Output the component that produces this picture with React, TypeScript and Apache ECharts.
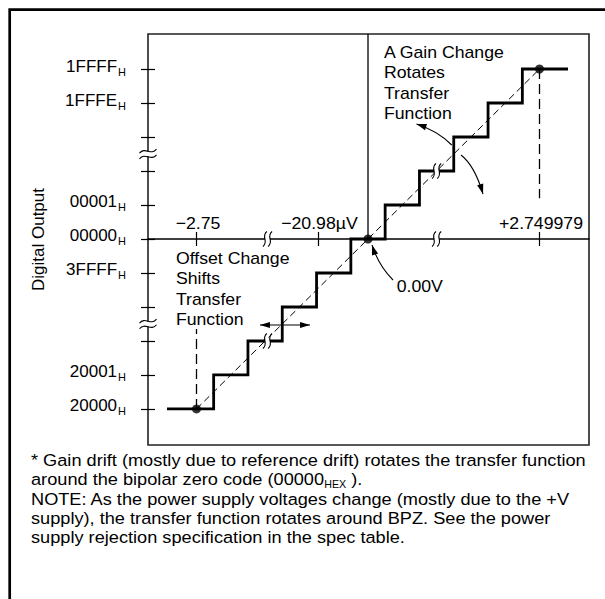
import React, { useEffect, useRef } from 'react';
import * as echarts from 'echarts';

const FONT = '"Liberation Sans", Arial, Helvetica, sans-serif';
const TEXT_SCALE = 1.04;
const FOOT_SCALE = 1.07;

// Output code levels (steps of 1 LSB around bipolar zero)
const codeLevels = [-5, -4, -3, -2, -1, 0, 1, 2, 3, 4, 5];
const codeLabelValues = [5, 4, 1, 0, -1, -4, -5];
const codeLabelTexts = ['1FFFF', '1FFFE', '00001', '00000', '3FFFF', '20001', '20000'];

// Staircase transfer function (input in LSB, output code level)
const stairX = [-5.86, -5, -4, -3, -2, -1, 0, 1, 2, 3, 4, 5, 5.83];
const stairY = [-5, -5, -4, -3, -2, -1, 0, 1, 2, 3, 4, 5, 5];

// Ideal (dashed) line
const idealX = [-5, 5];
const idealY = [-5, 5];

// Highlighted points
const dotX = [-5, 0, 5];
const dotY = [-5, 0, 5];

// Input axis ticks
const inputTickValues = [-5, -1.46, 5];
const inputTickLabels = ['\u22122.75', '\u221220.98\u00b5V', '+2.749979'];

// Breaks
const axisBreaksY = [2.5, -2.5];
const axisBreaksX = [-2.93, 2.0];
const stairBreaksX = [-2.93, 2.0];
const stairBreaksY = [-3, 2];

// Dashed drop lines
const dropLeftY = [-5, -2.65];
const dropRightY = [5, 1.2];

const X_MIN = -6.414;
const X_MAX = 6.443;
const Y_MIN = -6.06;
const Y_MAX = 6.03;

const footLines = [
  '* Gain drift (mostly due to reference drift) rotates the transfer function',
  '{t|around the bipolar zero code (00000}{s|HEX}{t| ).}',
  'NOTE: As the power supply voltages change (mostly due to the +V',
  'supply), the transfer function rotates around BPZ. See the power',
  'supply rejection specification in the spec table.',
];
const footLineY = [460, 479.5, 499, 518, 537];

const zip = (a: number[], b: number[]) => a.map((v, i) => [v, b[i]]);

function buildOption(): any {
  const renderItem = (_params: any, api: any) => {
    const P = (x: number, y: number) => api.coord([x, y]);
    const children: any[] = [];
    const stroke = '#000';

    const vWave = (c: number[]) => {
      children.push({ type: 'rect', shape: { x: c[0] - 2.4, y: c[1] - 3.5, width: 4.8, height: 7 }, style: { fill: '#fff' } });
      for (const dx of [-2.6, 2.6]) {
        children.push({
          type: 'bezierCurve',
          shape: { x1: c[0] + dx + 2, y1: c[1] - 7.5, cpx1: c[0] + dx - 4.5, cpy1: c[1] - 2.5, cpx2: c[0] + dx + 4.5, cpy2: c[1] + 2.5, x2: c[0] + dx - 2, y2: c[1] + 7.5 },
          style: { stroke, fill: null, lineWidth: 1.1 },
        });
      }
    };
    const hWave = (c: number[]) => {
      children.push({ type: 'rect', shape: { x: c[0] - 3, y: c[1] - 2.4, width: 6, height: 4.8 }, style: { fill: '#fff' } });
      for (const dy of [-2.8, 2.8]) {
        children.push({
          type: 'bezierCurve',
          shape: { x1: c[0] - 8.5, y1: c[1] + dy + 2, cpx1: c[0] - 3, cpy1: c[1] + dy - 5, cpx2: c[0] + 3, cpy2: c[1] + dy + 5, x2: c[0] + 8.5, y2: c[1] + dy - 2 },
          style: { stroke, fill: null, lineWidth: 1.1 },
        });
      }
    };
    const head = (from: number[], tip: number[], len = 10, hw = 3.2) => {
      const dx = tip[0] - from[0];
      const dy = tip[1] - from[1];
      const l = Math.hypot(dx, dy) || 1;
      const ux = dx / l, uy = dy / l;
      const bx = tip[0] - ux * len, by = tip[1] - uy * len;
      children.push({
        type: 'polygon',
        shape: { points: [[tip[0], tip[1]], [bx - uy * hw, by + ux * hw], [bx + uy * hw, by - ux * hw]] },
        style: { fill: stroke },
      });
    };
    const curvedArrow = (tail: number[], ctrl: number[], tip: number[]) => {
      const t = P(tail[0], tail[1]);
      const c = P(ctrl[0], ctrl[1]);
      const h = P(tip[0], tip[1]);
      children.push({
        type: 'bezierCurve',
        shape: { x1: t[0], y1: t[1], cpx1: c[0], cpy1: c[1], x2: h[0], y2: h[1] },
        style: { stroke, fill: null, lineWidth: 1.1 },
      });
      head(c, h);
    };

    axisBreaksY.forEach((y) => hWave(P(X_MIN, y)));
    axisBreaksX.forEach((x) => vWave(P(x, 0)));
    stairBreaksX.forEach((x, i) => vWave(P(x, stairBreaksY[i])));

    curvedArrow([2.44, 2.765], [2.038, 3.179], [1.414, 3.382]);
    curvedArrow([2.711, 2.471], [3.108, 2.162], [3.353, 1.324]);
    curvedArrow([0.729, -1.206], [0.306, -0.779], [0.117, -0.176]);

    const a1 = P(-3.15, -2.53);
    const a2 = P(-1.69, -2.53);
    children.push({ type: 'line', shape: { x1: a1[0], y1: a1[1], x2: a2[0], y2: a2[1] }, style: { stroke, lineWidth: 1.1 } });
    head(a2, a1, 10, 3);
    head(a1, a2, 10, 3);

    const txt = (p: number[], text: string, align: string, va: string) => {
      children.push({
        type: 'text',
        x: p[0],
        y: p[1],
        scaleX: TEXT_SCALE,
        style: { text, fill: '#000', fontSize: 17, fontFamily: FONT, lineHeight: 20.4, align, verticalAlign: va },
      });
    };
    txt(P(0.466, 5.8), 'A Gain Change\nRotates\nTransfer\nFunction', 'left', 'top');
    txt(P(-5.6, -0.26), 'Offset Change\nShifts\nTransfer\nFunction', 'left', 'top');
    txt(P(0.837, -1.4), '0.00V', 'left', 'middle');

    // input axis labels, above the zero line
    inputTickValues.forEach((v, i) => {
      const p = P(v, 0);
      txt([p[0] + 1.5, p[1] - 16], inputTickLabels[i], 'center', 'middle');
    });

    return { type: 'group', children };
  };

  const labelFmtY = (v: number) => {
    const i = codeLabelValues.findIndex((c) => Math.abs(c - v) < 1e-6);
    return i < 0 ? '' : `{a|${codeLabelTexts[i]}}{b|H}`;
  };

  const footer = footLines.map((text, i) => ({
    type: 'text',
    x: 31,
    y: footLineY[i],
    scaleX: FOOT_SCALE,
    silent: true,
    style: {
      text,
      fill: '#000',
      fontSize: 17,
      fontFamily: FONT,
      verticalAlign: 'middle',
      rich: {
        t: { fontSize: 17, fontFamily: FONT, fill: '#000' },
        s: { fontSize: 10, fontFamily: FONT, fill: '#000', padding: [10, 0, 0, 0] },
      },
    },
  }));

  return {
    animation: false,
    textStyle: { fontFamily: FONT },
    grid: {
      left: 148,
      right: 16,
      top: 34,
      bottom: 154,
      show: true,
      borderColor: '#222',
      borderWidth: 1.6,
      backgroundColor: 'transparent',
      containLabel: false,
      outerBoundsMode: 'none',
    },
    xAxis: [
      {
        type: 'value',
        min: X_MIN,
        max: X_MAX,
        position: 'bottom',
        axisLine: { show: true, onZero: true, onZeroAxisIndex: 0, lineStyle: { color: '#000', width: 1.5 } },
        axisTick: { show: true, inside: true, length: 7, customValues: inputTickValues, lineStyle: { color: '#000', width: 1.2 } },
        axisLabel: { show: false },
        splitLine: { show: false },
      },
      {
        type: 'value',
        min: X_MIN,
        max: X_MAX,
        position: 'bottom',
        axisLine: { show: false, onZero: true, onZeroAxisIndex: 0 },
        axisTick: { show: true, inside: false, length: 7, customValues: inputTickValues, lineStyle: { color: '#000', width: 1.2 } },
        axisLabel: { show: false },
        splitLine: { show: false },
      },
    ],
    yAxis: [
      {
        type: 'value',
        min: Y_MIN,
        max: Y_MAX,
        position: 'left',
        name: 'Digital Output',
        nameLocation: 'middle',
        nameRotate: 90,
        nameGap: 101,
        nameTextStyle: { color: '#000', fontSize: 17, fontFamily: FONT },
        axisLine: { show: false, onZero: false },
        axisTick: { show: true, inside: false, length: 7, customValues: codeLevels, lineStyle: { color: '#000', width: 1.2 } },
        axisLabel: {
          show: true,
          margin: 22,
          customValues: codeLabelValues,
          formatter: labelFmtY,
          rich: {
            a: { fontSize: 17, fontFamily: FONT, color: '#000', padding: [0, 0, 6, 0] },
            b: { fontSize: 11, fontFamily: FONT, color: '#000', padding: [5, 0, 0, 1] },
          },
        },
        splitLine: { show: false },
      },
      {
        type: 'value',
        min: Y_MIN,
        max: Y_MAX,
        position: 'left',
        axisLine: { show: false, onZero: false },
        axisTick: { show: true, inside: true, length: 7, customValues: codeLevels, lineStyle: { color: '#000', width: 1.2 } },
        axisLabel: { show: false },
        splitLine: { show: false },
      },
    ],
    series: [
      {
        type: 'line',
        name: 'zeroAxis',
        data: [[0, 0], [0, Y_MAX]],
        symbol: 'none',
        lineStyle: { color: '#000', width: 1.3 },
        silent: true,
        z: 1,
      },
      {
        type: 'line',
        name: 'ideal',
        data: zip(idealX, idealY),
        symbol: 'none',
        lineStyle: { color: '#000', width: 1, type: [7, 4] },
        silent: true,
        z: 2,
      },
      {
        type: 'line',
        name: 'dropLeft',
        data: zip([dotX[0], dotX[0]], dropLeftY),
        symbol: 'none',
        lineStyle: { color: '#000', width: 1.3, type: [10, 5] },
        silent: true,
        z: 2,
      },
      {
        type: 'line',
        name: 'dropRight',
        data: zip([dotX[2], dotX[2]], dropRightY),
        symbol: 'none',
        lineStyle: { color: '#000', width: 1.3, type: [10, 5] },
        silent: true,
        z: 2,
      },
      {
        type: 'line',
        name: 'stairs',
        data: zip(stairX, stairY),
        step: 'middle',
        symbol: 'none',
        lineStyle: { color: '#000', width: 2.8, join: 'miter' },
        silent: true,
        z: 3,
      },
      {
        type: 'scatter',
        name: 'points',
        data: zip(dotX, dotY),
        symbol: 'circle',
        symbolSize: 9,
        itemStyle: { color: '#000' },
        silent: true,
        z: 5,
      },
      {
        type: 'custom',
        name: 'annotations',
        data: [[0, 0]],
        renderItem,
        clip: false,
        silent: true,
        z: 6,
      },
    ],
    graphic: [
      {
        type: 'rect',
        silent: true,
        z: -1,
        shape: { x: 9.7, y: 9.7, width: 1200, height: 1200 },
        style: { fill: 'none', stroke: '#000', lineWidth: 2.7 },
      },
      ...footer,
    ],
  };
}

export default function App() {
  const ref = useRef<HTMLDivElement>(null);
  useEffect(() => {
    document.body.style.margin = '0';
    const chart = echarts.init(ref.current!, null, { renderer: 'svg' });
    chart.setOption(buildOption());
    return () => chart.dispose();
  }, []);
  return <div ref={ref} style={{ width: 605, height: 599 }} />;
}
